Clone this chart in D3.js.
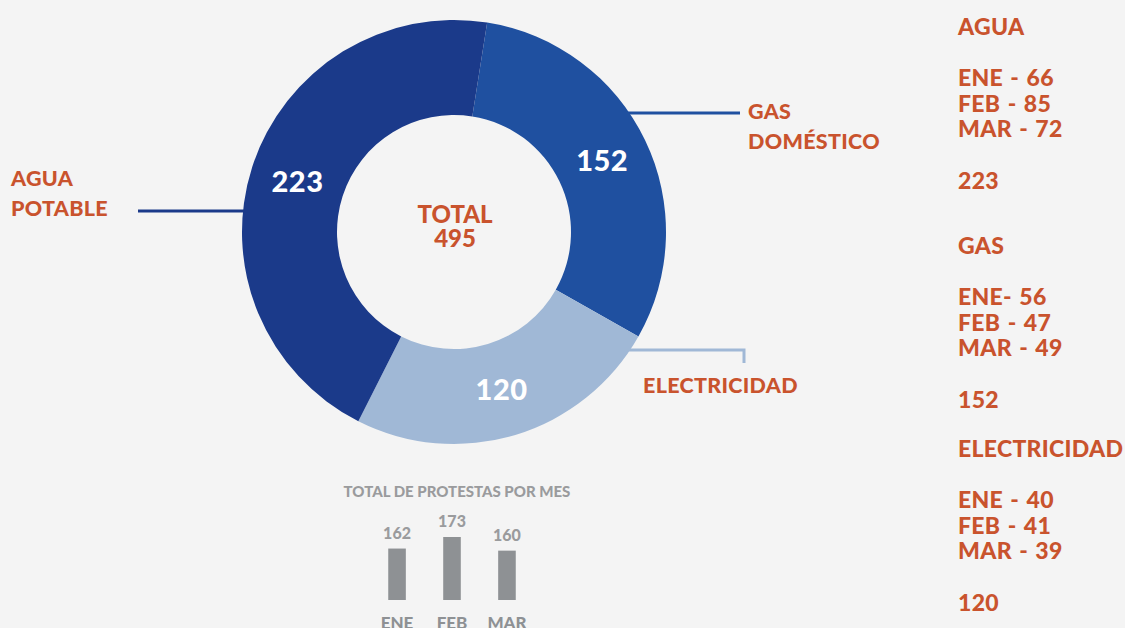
<!DOCTYPE html>
<meta charset="utf-8">
<script src="https://d3js.org/d3.v7.min.js"></script>

<style>
body {
  margin: 0;
  background-color: #F4F4F4;
  font-family: "Lato", "Open Sans", sans-serif;
}
svg text {
  font-weight: 900;
}
</style>

<svg id="chart" width="1125" height="628"></svg>

<script>
// ---- data ----
const categories = ["AGUA POTABLE", "GAS DOMÉSTICO", "ELECTRICIDAD"];
const totals = [223, 152, 120];
const months = ["ENE", "FEB", "MAR"];
const monthTotals = [162, 173, 160];
const aguaByMonth = [66, 85, 72];
const gasByMonth = [56, 47, 49];
const elecByMonth = [40, 41, 39];

const orange = "#C9532D",
  grey = "#8E9194",
  sliceColors = ["#1B3A8A", "#1F50A0", "#A0B8D6"];

const svg = d3.select("#chart");

// ---- donut ----
const cx = 454, cy = 232;
const outerR = 212, innerR = 117;

// pie order: gas, electricidad, agua (clockwise from just right of top)
const order = [1, 2, 0];
const start = 9 * Math.PI / 180;
const pie = d3.pie()
  .sort(null)
  .value(function(i) { return totals[i]; })
  .startAngle(start)
  .endAngle(start + 2 * Math.PI);

const arc = d3.arc().innerRadius(innerR).outerRadius(outerR);

const donut = svg.append("g")
  .attr("transform", "translate(" + cx + "," + cy + ")");

const arcs = pie(order);

donut.selectAll("path.slice")
  .data(arcs)
  .enter().append("path")
  .attr("class", "slice")
  .attr("d", arc)
  .attr("fill", function(d) { return sliceColors[d.data]; });

donut.selectAll("text.val")
  .data(arcs)
  .enter().append("text")
  .attr("class", "val")
  .attr("transform", function(d) { return "translate(" + arc.centroid(d) + ")"; })
  .attr("text-anchor", "middle")
  .attr("dy", "0.36em")
  .attr("fill", "#fff")
  .style("font-size", "29px")
  .style("letter-spacing", "0.5px")
  .text(function(d) { return totals[d.data]; });

// center total
const grand = d3.sum(totals);
donut.append("text")
  .attr("text-anchor", "middle")
  .attr("x", 1).attr("y", -9)
  .attr("fill", orange)
  .style("font-size", "24px")
  .text("TOTAL");
donut.append("text")
  .attr("text-anchor", "middle")
  .attr("x", 1).attr("y", 15)
  .attr("fill", orange)
  .style("font-size", "24px")
  .text(grand);

// ---- leader lines + category labels ----
svg.append("line")
  .attr("x1", 138).attr("x2", 250).attr("y1", 211).attr("y2", 211)
  .attr("stroke", sliceColors[0]).attr("stroke-width", 3);
svg.append("line")
  .attr("x1", 625).attr("x2", 740).attr("y1", 113).attr("y2", 113)
  .attr("stroke", sliceColors[1]).attr("stroke-width", 3);
svg.append("polyline")
  .attr("points", "625,350 744,350 744,363")
  .attr("fill", "none")
  .attr("stroke", sliceColors[2]).attr("stroke-width", 3);

function twoLine(x, y, lines, size) {
  const t = svg.append("text").attr("x", x).attr("y", y)
    .attr("fill", orange).style("font-size", size + "px")
    .style("letter-spacing", "0.3px");
  lines.forEach(function(l, i) {
    t.append("tspan").attr("x", x).attr("dy", i ? 29.5 : 0).text(l);
  });
}
twoLine(11, 186, ["AGUA", "POTABLE"], 21.5);
twoLine(748, 119, ["GAS", "DOMÉSTICO"], 21.5);
twoLine(643, 393, ["ELECTRICIDAD"], 21.5);

// ---- right column breakdown ----
const blocks = [
  { title: "AGUA", vals: aguaByMonth, total: totals[0], y: 35, sep: [" - ", " - ", " - "] },
  { title: "GAS", vals: gasByMonth, total: totals[1], y: 254, sep: ["- ", " - ", " - "] },
  { title: "ELECTRICIDAD", vals: elecByMonth, total: totals[2], y: 457, sep: [" - ", " - ", " - "] }
];
const col = svg.append("g").attr("fill", orange)
  .style("font-size", "23px")
  .style("letter-spacing", "0.3px")
  .style("word-spacing", "1.5px");
blocks.forEach(function(b) {
  col.append("text").attr("x", 958).attr("y", b.y).text(b.title);
  b.vals.forEach(function(v, i) {
    col.append("text").attr("x", 958).attr("y", b.y + 51 + i * 25.5)
      .text(months[i] + b.sep[i] + v);
  });
  col.append("text").attr("x", 958).attr("y", b.y + 154).text(b.total);
});

// ---- monthly bar chart ----
svg.append("text")
  .attr("x", 457).attr("y", 497)
  .attr("text-anchor", "middle")
  .attr("fill", "#9A9B9D")
  .style("font-size", "15px")
  .text("TOTAL DE PROTESTAS POR MES");

const x = d3.scaleBand()
  .domain(months)
  .range([369, 535])
  .paddingInner(0.68)
  .paddingOuter(0.35);

const y = d3.scaleLinear()
  .domain([113, 173])
  .range([600, 537]);

const bars = svg.append("g");
bars.selectAll("rect")
  .data(months)
  .enter().append("rect")
  .attr("x", function(d) { return x(d); })
  .attr("width", x.bandwidth())
  .attr("y", function(d, i) { return y(monthTotals[i]); })
  .attr("height", function(d, i) { return y.range()[0] - y(monthTotals[i]); })
  .attr("fill", grey);

bars.selectAll("text.bv")
  .data(months)
  .enter().append("text")
  .attr("class", "bv")
  .attr("x", function(d) { return x(d) + x.bandwidth() / 2; })
  .attr("y", function(d, i) { return y(monthTotals[i]) - 10; })
  .attr("text-anchor", "middle")
  .attr("fill", "#9A9B9D")
  .style("font-size", "16px")
  .text(function(d, i) { return monthTotals[i]; });

bars.selectAll("text.bm")
  .data(months)
  .enter().append("text")
  .attr("class", "bm")
  .attr("x", function(d) { return x(d) + x.bandwidth() / 2; })
  .attr("y", 629)
  .attr("text-anchor", "middle")
  .attr("fill", grey)
  .style("font-size", "17px")
  .text(function(d) { return d; });
</script>
